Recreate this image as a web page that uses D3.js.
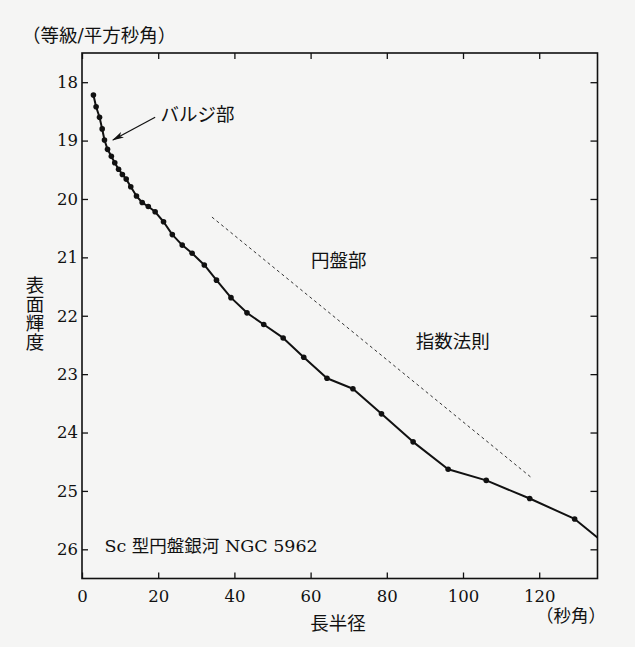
<!DOCTYPE html>
<html>
<head>
<meta charset="utf-8">
<script src="https://cdn.jsdelivr.net/npm/d3@7"></script>
<style>
    body { margin: 0; background: #f5f5f4; }
    svg { display: block; }
    .axis path { display: none; }
    .axis line { stroke: #111; stroke-width: 1.3; }
    .axis text { font-family: "DejaVu Serif", serif; font-size: 16.5px; fill: #111; }
    .lbl { font-family: "DejaVu Serif", "Noto Sans CJK JP", serif; fill: #111; }
</style>
</head>
<body>
<div id="chartDiv"></div>
<script>

// 長半径 (秒角)
var radius = [3.0, 3.7, 4.6, 5.3, 5.9, 6.7, 7.7, 8.6, 9.6, 10.6, 11.6, 12.8, 14.3, 15.8, 17.4,
    19.2, 21.4, 23.7, 26.3, 28.9, 32.1, 35.3, 39.1, 43.3, 47.7, 52.8, 58.2, 64.3, 71.1,
    78.6, 86.9, 96.1, 106.1, 117.5, 129.3, 137.0];

// 表面輝度 (等級/平方秒角)
var brightness = [18.22, 18.42, 18.60, 18.80, 18.99, 19.15, 19.27, 19.38, 19.49, 19.58, 19.66,
    19.79, 19.95, 20.06, 20.13, 20.22, 20.39, 20.61, 20.79, 20.93, 21.13, 21.39, 21.69,
    21.95, 22.15, 22.38, 22.71, 23.07, 23.25, 23.68, 24.16, 24.63, 24.82, 25.13, 25.48, 25.89];

// 指数法則 (破線)
var expRadius = [34.1, 118.1];
var expBrightness = [20.31, 24.78];

var xTicks = [0, 20, 40, 60, 80, 100, 120];
var yTicks = [18, 19, 20, 21, 22, 23, 24, 25, 26];

var margin = {
        top: 53,
        left: 82
    },
    width = 515.5,
    height = 525.5;

var x = d3.scaleLinear()
    .domain([0, 135.3])
    .range([0, width]);

var y = d3.scaleLinear()
    .domain([17.5, 26.5])
    .range([0, height]);

var svg = d3.select("#chartDiv").append("svg")
    .attr("width", 635)
    .attr("height", 647);

// arrow head for the bulge label
svg.append("defs").append("marker")
    .attr("id", "arrowHead")
    .attr("viewBox", "0 0 12 8")
    .attr("refX", 11)
    .attr("refY", 4)
    .attr("markerWidth", 12)
    .attr("markerHeight", 8)
    .attr("markerUnits", "userSpaceOnUse")
    .attr("orient", "auto")
    .append("path")
    .attr("d", "M0,0.8 L12,4 L0,7.2 L3,4 Z")
    .attr("fill", "#111");

svg.select("defs").append("clipPath")
    .attr("id", "plotClip")
    .append("rect")
    .attr("width", width)
    .attr("height", height);

var g = svg.append("g")
    .attr("transform", "translate(" + margin.left + "," + margin.top + ")");

g.append("g")
    .attr("class", "x axis")
    .attr("transform", "translate(0," + height + ")")
    .call(d3.axisBottom(x).tickValues(xTicks).tickSize(-6).tickPadding(12));

g.append("g")
    .attr("class", "x axis")
    .call(d3.axisTop(x).tickValues(xTicks).tickSize(-6).tickFormat(""));

g.append("g")
    .attr("class", "y axis")
    .call(d3.axisLeft(y).tickValues(yTicks).tickSize(-6).tickPadding(4));

g.append("g")
    .attr("class", "y axis")
    .attr("transform", "translate(" + width + ",0)")
    .call(d3.axisRight(y).tickValues(yTicks).tickSize(-7).tickFormat(""));

g.append("rect")
    .attr("width", width)
    .attr("height", height)
    .attr("fill", "none")
    .attr("stroke", "#111")
    .attr("stroke-width", 1.6);

var points = radius.map(function (d, i) {
    return [d, brightness[i]];
});

var plot = g.append("g")
    .attr("clip-path", "url(#plotClip)");

plot.append("path")
    .datum(points)
    .attr("fill", "none")
    .attr("stroke", "#111")
    .attr("stroke-width", 2)
    .attr("stroke-linejoin", "round")
    .attr("d", d3.line()
        .x(function (d) { return x(d[0]); })
        .y(function (d) { return y(d[1]); }));

plot.selectAll(".dot")
    .data(points)
    .enter().append("circle")
    .attr("class", "dot")
    .attr("cx", function (d) { return x(d[0]); })
    .attr("cy", function (d) { return y(d[1]); })
    .attr("r", 2.8)
    .attr("fill", "#111");

plot.append("line")
    .attr("x1", x(expRadius[0]))
    .attr("y1", y(expBrightness[0]))
    .attr("x2", x(expRadius[1]))
    .attr("y2", y(expBrightness[1]))
    .attr("stroke", "#333")
    .attr("stroke-width", 1)
    .attr("stroke-dasharray", "3,3");

// バルジ部 arrow
g.append("line")
    .attr("x1", x(19.2))
    .attr("y1", y(18.6))
    .attr("x2", x(8.1))
    .attr("y2", y(18.99))
    .attr("stroke", "#111")
    .attr("stroke-width", 1.2)
    .attr("marker-end", "url(#arrowHead)");

var notes = [
    { text: "バルジ部", r: 20.6, b: 18.66, size: 18.5 },
    { text: "円盤部", r: 60.1, b: 21.16, size: 18.5 },
    { text: "指数法則", r: 87.6, b: 22.55, size: 18.5 },
    { text: "Sc 型円盤銀河 NGC 5962", r: 5.9, b: 26.05, size: 17.5 }
];

g.selectAll(".note")
    .data(notes)
    .enter().append("text")
    .attr("class", "note lbl")
    .attr("x", function (d) { return x(d.r); })
    .attr("y", function (d) { return y(d.b); })
    .style("font-size", function (d) { return d.size + "px"; })
    .text(function (d) { return d.text; });

svg.append("text")
    .attr("class", "lbl")
    .attr("x", 22)
    .attr("y", 42)
    .style("font-size", "18.5px")
    .text("（等級/平方秒角）");

svg.append("text")
    .attr("class", "lbl")
    .attr("x", 338)
    .attr("y", 630)
    .attr("text-anchor", "middle")
    .style("font-size", "18.5px")
    .text("長半径");

svg.append("text")
    .attr("class", "lbl")
    .attr("x", 571)
    .attr("y", 622)
    .attr("text-anchor", "middle")
    .style("font-size", "17.5px")
    .text("（秒角）");

svg.selectAll(".vlabel")
    .data("表面輝度".split(""))
    .enter().append("text")
    .attr("class", "vlabel lbl")
    .attr("x", 35)
    .attr("y", function (d, i) { return 292 + i * 19; })
    .attr("text-anchor", "middle")
    .style("font-size", "18.5px")
    .text(function (d) { return d; });

</script>
</body>
</html>
